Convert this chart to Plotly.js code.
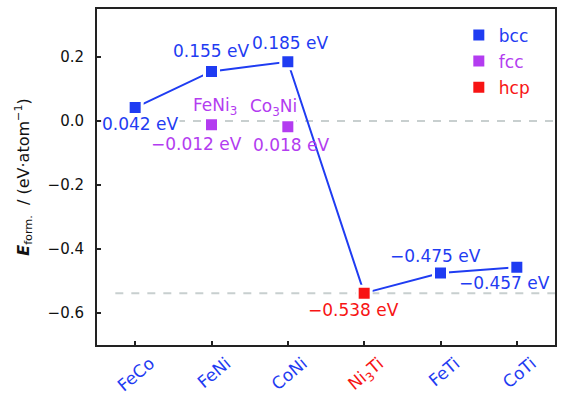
<!DOCTYPE html>
<html>
<head>
<meta charset="utf-8">
<script src="https://cdn.plot.ly/plotly-3.0.1.min.js"></script>
<style>html,body{margin:0;padding:0;background:#fff;}#chart{width:571px;height:399px;}</style>
</head>
<body>
<div id="chart"></div>
<script>
// ---- data ----
const categories = ['FeCo', 'FeNi', 'CoNi', 'Ni3Ti', 'FeTi', 'CoTi'];
const tickLabels = ['FeCo', 'FeNi', 'CoNi', 'Ni<sub>3</sub>Ti', 'FeTi', 'CoTi'];
const phases = ['bcc', 'bcc', 'bcc', 'hcp', 'bcc', 'bcc'];
const energies = [0.042, 0.155, 0.185, -0.538, -0.475, -0.457];
const energyLabels = ['0.042 eV', '0.155 eV', '0.185 eV', '\u22120.538 eV', '\u22120.475 eV', '\u22120.457 eV'];
const fccAt = ['FeNi', 'CoNi'];
const fccNames = ['FeNi<sub>3</sub>', 'Co<sub>3</sub>Ni'];
const fccEnergies = [-0.012, -0.018];
const fccLabels = ['\u22120.012 eV', '0.018 eV'];
const refLevels = [0, -0.538];

// ---- styles ----
const BLUE = '#1f3cf2', PURPLE = '#b33cf0', RED = '#f71414';
const phaseColor = {bcc: BLUE, fcc: PURPLE, hcp: RED};
const FONT = '"DejaVu Sans", Arial, sans-serif';
const labelShift = [[5, -16], [0, 20], [3, 19], [-11, -17], [-5, 17], [-12, -16]];
const fccNameShift = [[3, 18], [-14, 19]];
const fccLabelShift = [[-15, -19], [4, -18]];

const traces = [];
traces.push({
  x: categories, y: energies, type: 'scatter', mode: 'lines',
  line: {color: BLUE, width: 2}, showlegend: false, hoverinfo: 'skip'
});
['bcc', 'fcc', 'hcp'].forEach(ph => {
  let xs = [], ys = [];
  if (ph === 'fcc') { xs = fccAt; ys = fccEnergies; }
  else {
    phases.forEach((p, i) => { if (p === ph) { xs.push(categories[i]); ys.push(energies[i]); } });
  }
  traces.push({
    x: xs, y: ys, type: 'scatter', mode: 'markers', legendgroup: ph,
    name: '<span style="color:' + phaseColor[ph] + '">' + ph + '</span>',
    marker: {symbol: 'square', size: 14, color: phaseColor[ph], line: {color: '#fff', width: 3}}
  });
});

const annotations = [];
energies.forEach((e, i) => {
  annotations.push({
    x: categories[i], y: e, xref: 'x', yref: 'y', text: energyLabels[i], showarrow: false,
    xshift: labelShift[i][0], yshift: labelShift[i][1],
    font: {family: FONT, size: 17, color: phaseColor[phases[i]]},
    bgcolor: i === 0 ? '#fff' : 'rgba(0,0,0,0)', borderpad: 0
  });
});
fccEnergies.forEach((e, i) => {
  annotations.push({
    x: fccAt[i], y: e, xref: 'x', yref: 'y', text: fccNames[i], showarrow: false,
    xshift: fccNameShift[i][0], yshift: fccNameShift[i][1],
    font: {family: FONT, size: 17, color: PURPLE}
  });
  annotations.push({
    x: fccAt[i], y: e, xref: 'x', yref: 'y', text: fccLabels[i], showarrow: false,
    xshift: fccLabelShift[i][0], yshift: fccLabelShift[i][1],
    font: {family: FONT, size: 17, color: PURPLE}
  });
});

const shapes = refLevels.map((v, i) => ({
  type: 'line', xref: 'paper', yref: 'y', x0: i === 0 ? 0 : 0.04, x1: 1, y0: v, y1: v,
  line: {color: '#c8cfcf', width: 2, dash: '8px,8px'}, layer: 'below'
}));

const tickText = tickLabels.map((t, i) =>
  '<span style="color:' + (categories[i] === 'Ni3Ti' ? RED : BLUE) + '">' + t + '</span>');

const layout = {
  width: 571, height: 399,
  margin: {l: 97, r: 16, t: 9, b: 54},
  paper_bgcolor: '#fff', plot_bgcolor: '#fff',
  font: {family: FONT, size: 17, color: '#000'},
  showlegend: true,
  legend: {x: 0.79, y: 0.975, xanchor: 'left', yanchor: 'top', bgcolor: 'rgba(0,0,0,0)',
           tracegroupgap: 1, font: {family: FONT, size: 17}},
  xaxis: {
    type: 'category', range: [-0.5, 5.5],
    tickvals: categories, ticktext: tickText, tickangle: -40,
    ticks: 'inside', ticklen: 4, tickwidth: 2, tickcolor: '#222',
    ticklabelshift: 15, ticklabelstandoff: 0,
    showline: true, linecolor: '#222', linewidth: 2, mirror: true,
    showgrid: false, zeroline: false,
    tickfont: {family: FONT, size: 17}
  },
  yaxis: {
    range: [-0.70, 0.35], tickvals: [-0.6, -0.4, -0.2, 0, 0.2], tickformat: '.1f',
    ticks: 'inside', ticklen: 4, tickwidth: 2, tickcolor: '#222',
    ticklabelstandoff: 8,
    showline: true, linecolor: '#222', linewidth: 2, mirror: true,
    showgrid: false, zeroline: false,
    tickfont: {family: FONT, size: 15, color: '#111'},
    title: {text: '<b><i>E</i></b><sub>form.</sub>  / (eV\u00b7atom<sup>\u22121</sup>)',
            font: {family: FONT, size: 16, color: '#111'}, standoff: 14}
  },
  shapes: shapes,
  annotations: annotations
};

Plotly.newPlot('chart', traces, layout, {staticPlot: true, displayModeBar: false});
</script>
</body>
</html>
